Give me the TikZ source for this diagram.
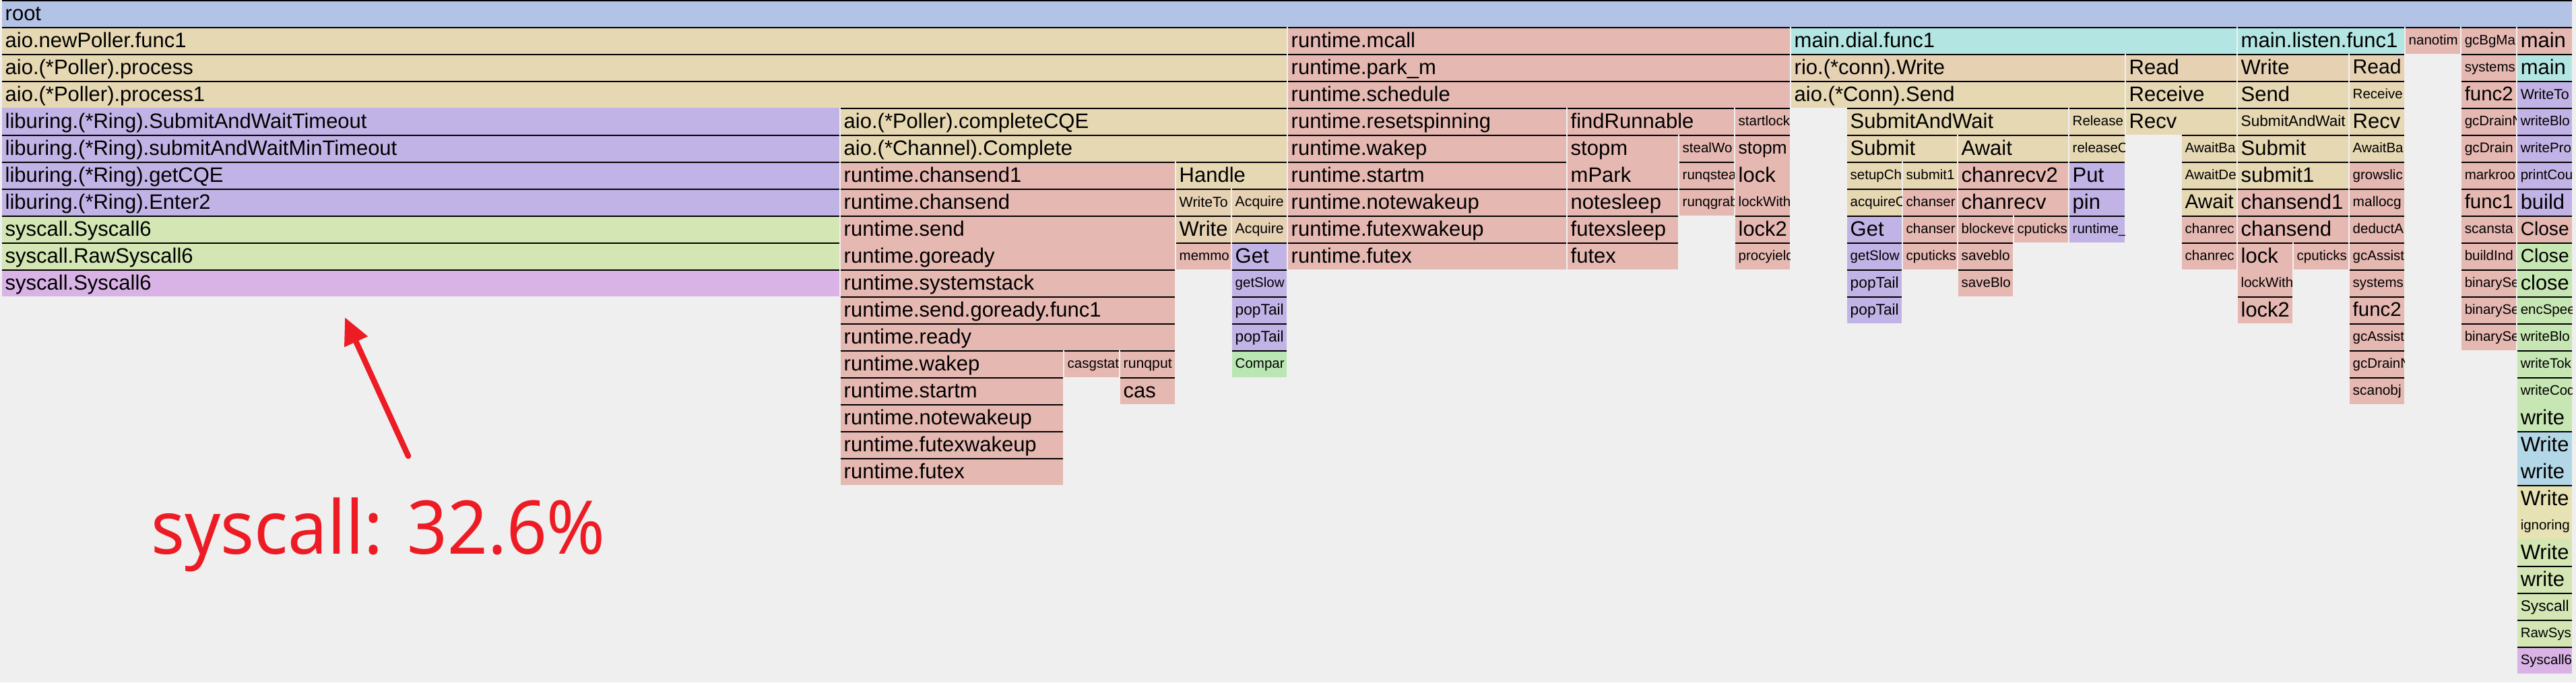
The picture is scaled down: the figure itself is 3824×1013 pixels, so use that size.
\documentclass[tikz,border=0pt]{standalone}
\usepackage{fontspec}
\setmainfont{Liberation Sans}
\newfontfamily\annfont{Noto Sans}
\usepackage{tikz}
\usetikzlibrary{arrows.meta}

\definecolor{fgbg}{HTML}{EFEFEF}
\definecolor{fgroot}{HTML}{B3C3E6}
\definecolor{fgtan}{HTML}{E6D8B3}
\definecolor{fgpeach}{HTML}{E6D1B3}
\definecolor{fgpink}{HTML}{E6B8B2}
\definecolor{fgpurple}{HTML}{C2B3E6}
\definecolor{fggreen}{HTML}{D3E6B3}
\definecolor{fglgreen}{HTML}{C6E6B3}
\definecolor{fgmint}{HTML}{BAE6B3}
\definecolor{fgmauve}{HTML}{D9B3E6}
\definecolor{fgcyan}{HTML}{B3E6E3}
\definecolor{fgblue}{HTML}{B3D7E6}
\definecolor{fgyellow}{HTML}{E6E2B3}
\definecolor{annred}{HTML}{ED1C24}

\tikzset{
  fgline/.style={line width=1.7pt, black},
  fglabel/.style={anchor=base west, inner sep=0pt, text=black},
  annot/.style={text=annred, inner sep=0pt, anchor=base west,
    font=\annfont\fontsize{110}{110}\selectfont},
  annarrow/.style={annred, line width=8.5pt, line cap=round,
    -{Triangle[length=40pt,width=36pt]}},
}

\newlength\fgwd
% label shrunk to the box width, 31pt at most and 20.5pt at least
\newcommand{\fgfit}[3]{%
  \settowidth{\fgwd}{\fontsize{31}{31}\selectfont #3}%
  \pgfmathsetmacro\fgsize{max(20.5,min(31,(#2-#1-9)/max(1,\fgwd)*31))}%
  \pgfmathsetmacro\fgraise{0.33*(31-\fgsize)}%
  \raisebox{\fgraise pt}{\fontsize{\fgsize}{\fgsize}\selectfont #3}}

% \fg[line opts]{name}{colour}{x0}{x1}{row}{label}
\newcommand{\fg}[7][]{%
  \fill[#3] (#4,#6*40) rectangle (#5,#6*40+40);
  \draw[fgline,#1] (#4,#6*40+0.85) -- (#5,#6*40+0.85);
  \begin{scope}
    \clip (#4,#6*40) rectangle (#5,#6*40+40);
    \node[fglabel] (#2) at (#4+4.5,#6*40+30.2) {\fgfit{#4}{#5}{#7}};
  \end{scope}}

\begin{document}
\begin{tikzpicture}[x=1pt,y=-1pt]
\fill[fgbg] (0,0) rectangle (3824,1013);

\fg{f0a}{fgroot}{3}{3818}{0}{root}

\fg{f1a}{fgtan}{3}{1910}{1}{aio.newPoller.func1}
\fg{f1b}{fgpink}{1912}{2657}{1}{runtime.mcall}
\fg{f1c}{fgcyan}{2659}{3320}{1}{main.dial.func1}
\fg{f1d}{fgcyan}{3322}{3569}{1}{main.listen.func1}
\fg{f1e}{fgpink}{3571}{3652}{1}{nanotim}
\fg{f1f}{fgpink}{3654}{3735}{1}{gcBgMa}
\fg{f1g}{fgpink}{3737}{3818}{1}{main}

\fg{f2a}{fgtan}{3}{1910}{2}{aio.(*Poller).process}
\fg{f2b}{fgpink}{1912}{2657}{2}{runtime.park\_m}
\fg{f2c}{fgpeach}{2659}{3154}{2}{rio.(*conn).Write}
\fg{f2d}{fgpeach}{3156}{3320}{2}{Read}
\fg{f2e}{fgpeach}{3322}{3486}{2}{Write}
\fg{f2f}{fgpeach}{3488}{3569}{2}{Read}
\fg{f2g}{fgpink}{3654}{3735}{2}{systems}
\fg{f2h}{fgcyan}{3737}{3818}{2}{main}

\fg{f3a}{fgtan}{3}{1910}{3}{aio.(*Poller).process1}
\fg{f3b}{fgpink}{1912}{2657}{3}{runtime.schedule}
\fg{f3c}{fgtan}{2659}{3154}{3}{aio.(*Conn).Send}
\fg{f3d}{fgtan}{3156}{3320}{3}{Receive}
\fg{f3e}{fgtan}{3322}{3486}{3}{Send}
\fg{f3f}{fgtan}{3488}{3569}{3}{Receive}
\fg{f3g}{fgpink}{3654}{3735}{3}{func2}
\fg{f3h}{fgpurple}{3737}{3818}{3}{WriteTo}

\fg[draw=none]{f4a}{fgpurple}{3}{1246}{4}{liburing.(*Ring).SubmitAndWaitTimeout}
\fg{f4b}{fgtan}{1248}{1910}{4}{aio.(*Poller).completeCQE}
\fg{f4c}{fgpink}{1912}{2325}{4}{runtime.resetspinning}
\fg{f4d}{fgpink}{2327}{2574}{4}{findRunnable}
\fg{f4e}{fgpink}{2576}{2657}{4}{startlock}
\fg{f4f}{fgtan}{2742}{3070}{4}{SubmitAndWait}
\fg{f4g}{fgtan}{3072}{3154}{4}{Release}
\fg{f4h}{fgtan}{3156}{3320}{4}{Recv}
\fg{f4i}{fgtan}{3322}{3486}{4}{SubmitAndWait}
\fg{f4j}{fgtan}{3488}{3569}{4}{Recv}
\fg{f4k}{fgpink}{3654}{3735}{4}{gcDrainN}
\fg{f4l}{fgpurple}{3737}{3818}{4}{writeBlo}

\fg{f5a}{fgpurple}{3}{1246}{5}{liburing.(*Ring).submitAndWaitMinTimeout}
\fg{f5b}{fgtan}{1248}{1910}{5}{aio.(*Channel).Complete}
\fg{f5c}{fgpink}{1912}{2325}{5}{runtime.wakep}
\fg{f5d}{fgpink}{2327}{2491}{5}{stopm}
\fg{f5e}{fgpink}{2493}{2574}{5}{stealWo}
\fg{f5f}{fgpink}{2576}{2657}{5}{stopm}
\fg{f5g}{fgtan}{2742}{2905}{5}{Submit}
\fg{f5h}{fgtan}{2907}{3070}{5}{Await}
\fg{f5i}{fgtan}{3072}{3154}{5}{releaseC}
\fg{f5j}{fgtan}{3239}{3320}{5}{AwaitBa}
\fg{f5k}{fgtan}{3322}{3486}{5}{Submit}
\fg{f5l}{fgtan}{3488}{3569}{5}{AwaitBa}
\fg{f5m}{fgpink}{3654}{3735}{5}{gcDrain}
\fg{f5n}{fgpurple}{3737}{3818}{5}{writePro}

\fg{f6a}{fgpurple}{3}{1246}{6}{liburing.(*Ring).getCQE}
\fg{f6b}{fgpink}{1248}{1744}{6}{runtime.chansend1}
\fg{f6c}{fgtan}{1746}{1910}{6}{Handle}
\fg{f6d}{fgpink}{1912}{2325}{6}{runtime.startm}
\fg[draw=none]{f6e}{fgpink}{2327}{2491}{6}{mPark}
\fg{f6f}{fgpink}{2493}{2574}{6}{runqsteal}
\fg[draw=none]{f6g}{fgpink}{2576}{2657}{6}{lock}
\fg{f6h}{fgtan}{2742}{2823}{6}{setupCh}
\fg{f6i}{fgtan}{2825}{2905}{6}{submit1}
\fg{f6j}{fgpink}{2907}{3070}{6}{chanrecv2}
\fg{f6k}{fgpurple}{3072}{3154}{6}{Put}
\fg{f6l}{fgtan}{3239}{3320}{6}{AwaitDe}
\fg{f6m}{fgtan}{3322}{3486}{6}{submit1}
\fg{f6n}{fgpink}{3488}{3569}{6}{growslic}
\fg{f6o}{fgpink}{3654}{3735}{6}{markroo}
\fg{f6p}{fgpurple}{3737}{3818}{6}{printCou}

\fg{f7a}{fgpurple}{3}{1246}{7}{liburing.(*Ring).Enter2}
\fg{f7b}{fgpink}{1248}{1744}{7}{runtime.chansend}
\fg{f7c}{fgpeach}{1746}{1827}{7}{WriteTo}
\fg{f7d}{fgpeach}{1829}{1910}{7}{Acquire}
\fg{f7e}{fgpink}{1912}{2325}{7}{runtime.notewakeup}
\fg{f7f}{fgpink}{2327}{2491}{7}{notesleep}
\fg{f7g}{fgpink}{2493}{2574}{7}{runqgrab}
\fg[draw=none]{f7h}{fgpink}{2576}{2657}{7}{lockWith}
\fg{f7i}{fgtan}{2742}{2823}{7}{acquireC}
\fg{f7j}{fgpink}{2825}{2905}{7}{chanser}
\fg{f7k}{fgpink}{2907}{3070}{7}{chanrecv}
\fg{f7l}{fgpurple}{3072}{3154}{7}{pin}
\fg{f7m}{fgtan}{3239}{3320}{7}{Await}
\fg{f7n}{fgpink}{3322}{3486}{7}{chansend1}
\fg{f7o}{fgpink}{3488}{3569}{7}{mallocg}
\fg{f7p}{fgpink}{3654}{3735}{7}{func1}
\fg{f7q}{fgpurple}{3737}{3818}{7}{build}

\fg{f8a}{fggreen}{3}{1246}{8}{syscall.Syscall6}
\fg{f8b}{fgpink}{1248}{1744}{8}{runtime.send}
\fg{f8c}{fgpeach}{1746}{1827}{8}{Write}
\fg{f8d}{fgpeach}{1829}{1910}{8}{Acquire}
\fg{f8e}{fgpink}{1912}{2325}{8}{runtime.futexwakeup}
\fg{f8f}{fgpink}{2327}{2491}{8}{futexsleep}
\fg{f8g}{fgpink}{2576}{2657}{8}{lock2}
\fg{f8h}{fgpurple}{2742}{2823}{8}{Get}
\fg{f8i}{fgpink}{2825}{2905}{8}{chanser}
\fg{f8j}{fgpink}{2907}{2988}{8}{blockeve}
\fg{f8k}{fgpink}{2990}{3070}{8}{cputicks}
\fg{f8l}{fgpurple}{3072}{3154}{8}{runtime\_}
\fg{f8m}{fgpink}{3239}{3320}{8}{chanrec}
\fg{f8n}{fgpink}{3322}{3486}{8}{chansend}
\fg{f8o}{fgpink}{3488}{3569}{8}{deductA}
\fg{f8p}{fgpink}{3654}{3735}{8}{scansta}
\fg{f8q}{fgpink}{3737}{3818}{8}{Close}

\fg{f9a}{fggreen}{3}{1246}{9}{syscall.RawSyscall6}
\fg[draw=none]{f9b}{fgpink}{1248}{1744}{9}{runtime.goready}
\fg{f9c}{fgpink}{1746}{1827}{9}{memmo}
\fg{f9d}{fgpurple}{1829}{1910}{9}{Get}
\fg{f9e}{fgpink}{1912}{2325}{9}{runtime.futex}
\fg{f9f}{fgpink}{2327}{2491}{9}{futex}
\fg{f9g}{fgpink}{2576}{2657}{9}{procyield}
\fg{f9h}{fgpurple}{2742}{2823}{9}{getSlow}
\fg{f9i}{fgpink}{2825}{2905}{9}{cputicks}
\fg{f9j}{fgpink}{2907}{2988}{9}{saveblo}
\fg{f9k}{fgpink}{3239}{3320}{9}{chanrec}
\fg{f9l}{fgpink}{3322}{3403}{9}{lock}
\fg{f9m}{fgpink}{3405}{3486}{9}{cputicks}
\fg{f9n}{fgpink}{3488}{3569}{9}{gcAssist}
\fg{f9o}{fgpink}{3654}{3735}{9}{buildInd}
\fg{f9p}{fglgreen}{3737}{3818}{9}{Close}

\fg{f10a}{fgmauve}{3}{1246}{10}{syscall.Syscall6}
\fg{f10b}{fgpink}{1248}{1744}{10}{runtime.systemstack}
\fg{f10c}{fgpurple}{1829}{1910}{10}{getSlow}
\fg{f10d}{fgpurple}{2742}{2823}{10}{popTail}
\fg{f10e}{fgpink}{2907}{2988}{10}{saveBlo}
\fg[draw=none]{f10f}{fgpink}{3322}{3403}{10}{lockWith}
\fg{f10g}{fgpink}{3488}{3569}{10}{systems}
\fg{f10h}{fgpink}{3654}{3735}{10}{binarySe}
\fg{f10i}{fglgreen}{3737}{3818}{10}{close}

\fg{f11a}{fgpink}{1248}{1744}{11}{runtime.send.goready.func1}
\fg{f11b}{fgpurple}{1829}{1910}{11}{popTail}
\fg{f11c}{fgpurple}{2742}{2823}{11}{popTail}
\fg{f11d}{fgpink}{3322}{3403}{11}{lock2}
\fg{f11e}{fgpink}{3488}{3569}{11}{func2}
\fg{f11f}{fgpink}{3654}{3735}{11}{binarySe}
\fg{f11g}{fglgreen}{3737}{3818}{11}{encSpee}

\fg{f12a}{fgpink}{1248}{1744}{12}{runtime.ready}
\fg{f12b}{fgpurple}{1829}{1910}{12}{popTail}
\fg{f12c}{fgpink}{3488}{3569}{12}{gcAssist}
\fg{f12d}{fgpink}{3654}{3735}{12}{binarySe}
\fg{f12e}{fglgreen}{3737}{3818}{12}{writeBlo}

\fg{f13a}{fgpink}{1248}{1578}{13}{runtime.wakep}
\fg{f13b}{fgpink}{1580}{1661}{13}{casgstat}
\fg{f13c}{fgpink}{1663}{1744}{13}{runqput}
\fg{f13d}{fgmint}{1829}{1910}{13}{Compar}
\fg{f13e}{fgpink}{3488}{3569}{13}{gcDrainN}
\fg{f13f}{fglgreen}{3737}{3818}{13}{writeTok}

\fg{f14a}{fgpink}{1248}{1578}{14}{runtime.startm}
\fg{f14b}{fgpink}{1663}{1744}{14}{cas}
\fg{f14c}{fgpink}{3488}{3569}{14}{scanobj}
\fg{f14d}{fglgreen}{3737}{3818}{14}{writeCod}

\fg{f15a}{fgpink}{1248}{1578}{15}{runtime.notewakeup}
\fg[draw=none]{f15b}{fglgreen}{3737}{3818}{15}{write}
\fg{f16a}{fgpink}{1248}{1578}{16}{runtime.futexwakeup}
\fg{f16b}{fgblue}{3737}{3818}{16}{Write}
\fg{f17a}{fgpink}{1248}{1578}{17}{runtime.futex}
\fg[draw=none]{f17b}{fgblue}{3737}{3818}{17}{write}

\fg{f18a}{fgyellow}{3737}{3818}{18}{Write}
\fg[draw=none]{f19a}{fgyellow}{3737}{3818}{19}{ignoring}
\fg[draw=none]{f20a}{fggreen}{3737}{3818}{20}{Write}
\fg{f21a}{fggreen}{3737}{3818}{21}{write}
\fg{f22a}{fggreen}{3737}{3818}{22}{Syscall}
\fg{f23a}{fggreen}{3737}{3818}{23}{RawSys}
\fg{f24a}{fgmauve}{3737}{3818}{24}{Syscall6}

% annotation
\node[annot] (note) at (224,822) {\scalebox{0.95}[1]{syscall: 32.6\%}};
\coordinate (tail) at (606,677);
\coordinate (tip) at (512,471);
\draw[annarrow] (tail) -- (tip);
\end{tikzpicture}
\end{document}
